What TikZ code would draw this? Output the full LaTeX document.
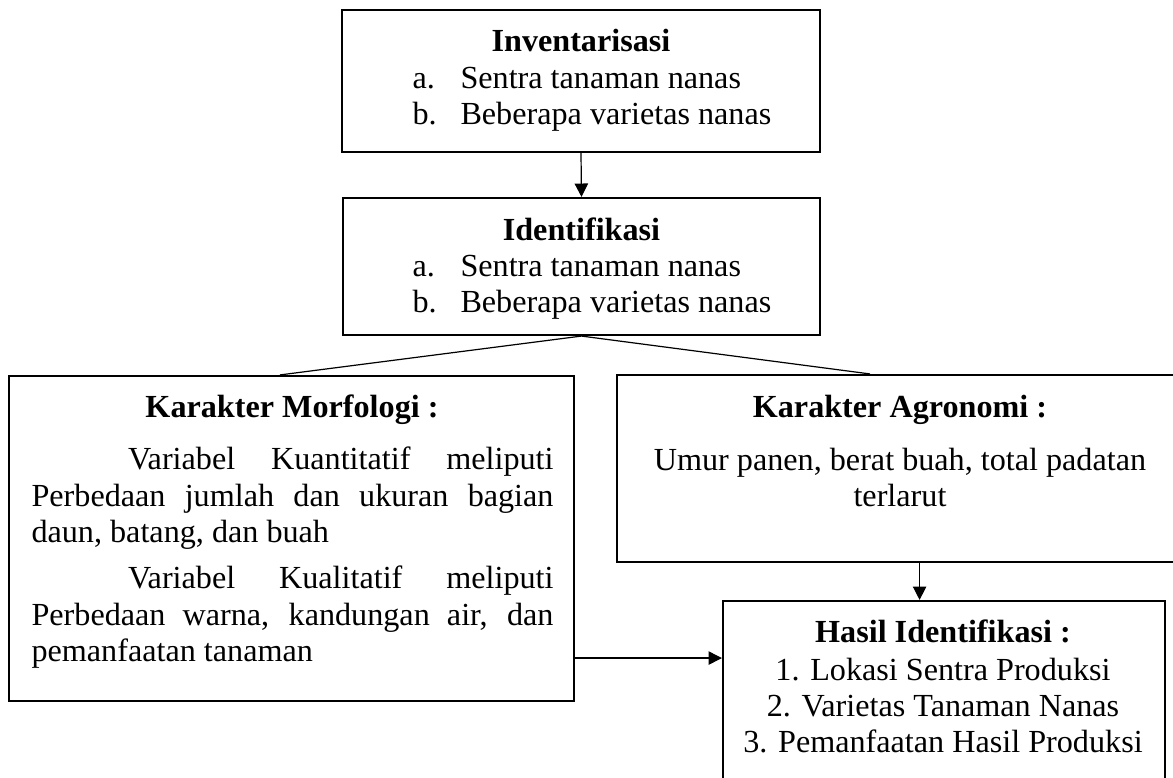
\documentclass[tikz,border=0pt]{standalone}
\usepackage{fontspec}
\setmainfont{Liberation Serif}
\usepackage{tikz}
\usetikzlibrary{arrows.meta,fit,calc}
\newcommand{\ukuran}{\fontsize{12}{13.6}\selectfont}
\tikzset{
  kotak/.style={draw,line width=0.8pt,inner sep=0pt},
  judul/.style={anchor=base,font=\ukuran\bfseries,inner sep=0pt},
  isi/.style={anchor=base west,inner sep=0pt},
  tengah/.style={anchor=base,inner sep=0pt,align=center},
  panah/.style={line width=0.45pt,-{Triangle[length=5pt,width=5pt]}},
  garis/.style={line width=0.45pt}
}
\newcommand{\butir}[2]{\makebox[17.9pt][l]{#1}#2}

\begin{document}
\begin{tikzpicture}[x=0.373pt,y=-0.373pt,font=\ukuran]
\useasboundingbox (0,0) rectangle (1173,778);
\node[kotak,fit={(342,10) (820,152)}] (inv) {};
\node[kotak,fit={(343,198) (820,335)}] (idf) {};
\node[kotak,fit={(9,376) (574,701)}] (morf) {};
\node[kotak,fit={(617,375) (1183,562)}] (agro) {};
\node[kotak,fit={(723,601) (1165,790)}] (hasil) {};

\node[judul] (tinv) at (581,52) {Inventarisasi};
\node[isi] (inva) at (412,88.5) {\butir{a.}{Sentra tanaman nanas}};
\node[isi] (invb) at (412,125) {\butir{b.}{Beberapa varietas nanas}};

\node[judul] (tidf) at (581.5,240.5) {Identifikasi};
\node[isi] (idfa) at (412,276.5) {\butir{a.}{Sentra tanaman nanas}};
\node[isi] (idfb) at (412,313) {\butir{b.}{Beberapa varietas nanas}};

\node[judul] (tmorf) at (292,418) {Karakter Morfologi :};
\node[isi,text width=194.7pt,align=justify] (imorf) at (31,470) {\tolerance=10000\hyphenpenalty=10000
\hspace*{36pt}Variabel Kuantitatif meliputi\linebreak Perbedaan jumlah dan ukuran bagian\linebreak daun, batang, dan buah\par\vspace{3.5pt}
\hspace*{36pt}Variabel Kualitatif meliputi\linebreak Perbedaan warna, kandungan air, dan\linebreak pemanfaatan tanaman};

\node[judul] (tagro) at (900,418) {Karakter Agronomi :};
\node[tengah] (iagro) at (900,507) {Umur panen, berat buah, total padatan\\terlarut};

\node[judul] (thasil) at (943,643) {Hasil Identifikasi :};
\node[tengah] (ihasil) at (943,753) {1. Lokasi Sentra Produksi\\2. Varietas Tanaman Nanas\\3. Pemanfaatan Hasil Produksi};

\draw[panah] (inv.south) -- (idf.north);
\draw[garis] (idf.south) -- ([xshift=-4.3pt]morf.north);
\draw[garis] (idf.south) -- ([xshift=-11.2pt]agro.north);
\draw[panah] ([xshift=-9.1pt]hasil.north |- agro.south) -- ([xshift=-9.1pt]hasil.north);
\draw[panah] ([yshift=-44.6pt]morf.east) -- ([yshift=-44.6pt]morf.east -| hasil.west);
\end{tikzpicture}
\end{document}
